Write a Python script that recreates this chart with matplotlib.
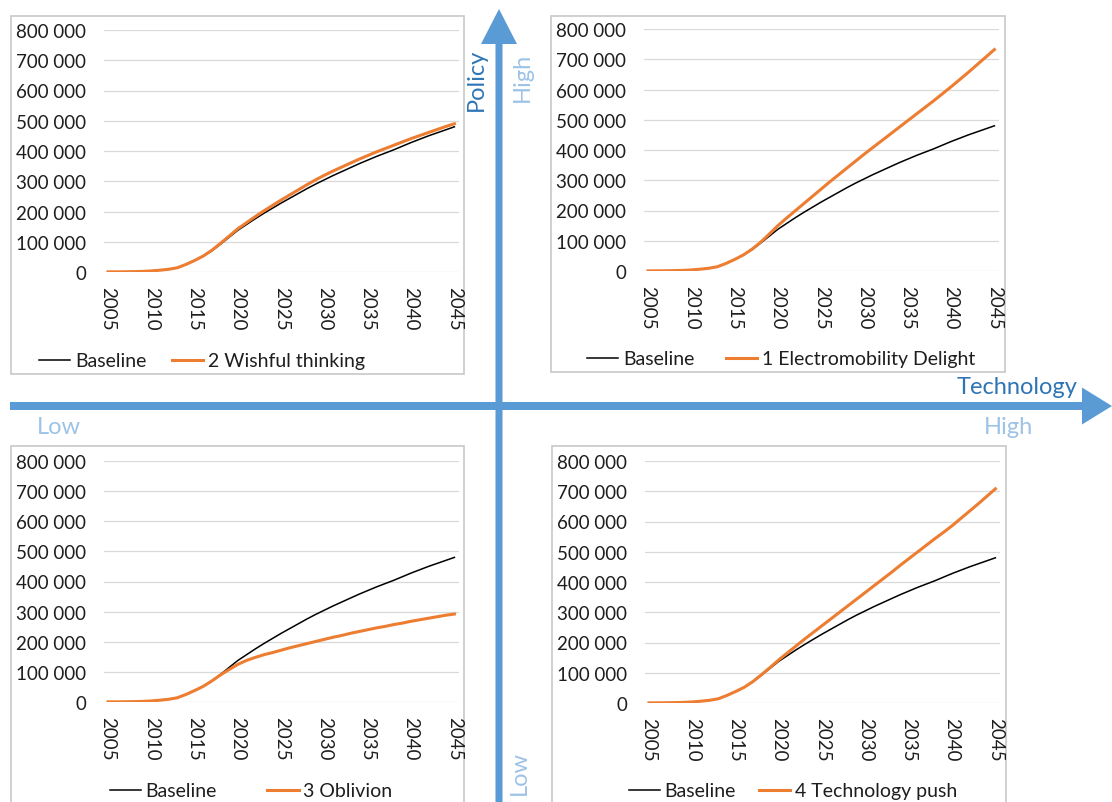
import matplotlib
matplotlib.use("Agg")
import matplotlib.pyplot as plt
from matplotlib.patches import FancyArrow, Rectangle
from matplotlib.ticker import FuncFormatter, MultipleLocator

plt.rcParams['font.family'] = ['Lato', 'DejaVu Sans']

years = list(range(2005, 2046))

baseline = [500, 600, 800, 1200, 2000, 3500, 6000, 9000, 14000, 25000,
            38000, 52000, 70000, 92000, 115000, 138000, 157000, 176000, 194000, 211000,
            228000, 244000, 260000, 276000, 291000, 305000, 319000, 332000, 345000, 358000,
            370000, 382000, 393000, 404000, 416000, 428000, 439000, 450000, 460000, 470000,
            480000]

wishful = [500, 600, 800, 1200, 2000, 3500, 6000, 9000, 14000, 25000,
           38000, 53000, 72000, 95000, 119000, 143000, 163000, 183000, 202000, 220000,
           238000, 255000, 272000, 289000, 305000, 320000, 334000, 347000, 360000, 373000,
           385000, 397000, 408000, 419000, 430000, 441000, 451000, 461000, 471000, 481000,
           490000]

electro = [500, 600, 800, 1200, 2000, 3500, 6000, 9000, 14000, 25000,
           38000, 53000, 72000, 95000, 122000, 150000, 175000, 199000, 223000, 247000,
           271000, 295000, 318000, 341000, 364000, 387000, 409000, 431000, 453000, 475000,
           497000, 519000, 541000, 563000, 586000, 609000, 633000, 657000, 682000, 707000,
           732000]

oblivion = [500, 600, 800, 1200, 2000, 3500, 6000, 9000, 14000, 25000,
            38000, 52000, 70000, 90000, 108000, 125000, 138000, 148000, 157000, 164000,
            172000, 180000, 187000, 194000, 201000, 208000, 215000, 221000, 228000, 234000,
            240000, 246000, 251000, 257000, 262000, 268000, 273000, 278000, 283000, 288000,
            292000]

techpush = [500, 600, 800, 1200, 2000, 3500, 6000, 9000, 14000, 25000,
            38000, 52000, 71000, 94000, 118000, 143000, 166000, 189000, 212000, 234000,
            256000, 278000, 300000, 322000, 344000, 366000, 388000, 410000, 432000, 455000,
            477000, 499000, 521000, 543000, 564000, 586000, 610000, 634000, 658000, 683000,
            708000]

panels = [
    # scenario label, series, axes rect (px: left, top-of-800k, bottom-of-0), box (px), legend centre (px), column spacing
    ("2 Wishful thinking", wishful, (104, 31, 273), (11, 17, 464, 375), (202, 362), 1.3),
    ("1 Electromobility Delight", electro, (644, 30, 272), (551, 17, 1005, 373), (781, 360), 1.6),
    ("3 Oblivion", oblivion, (104, 462, 703), (11, 447, 464, 815), (251, 792), 2.6),
    ("4 Technology push", techpush, (645, 462, 704), (552, 447, 1006, 815), (793, 792), 1.2),
]

W, H = 1112, 803
ARROW = '#5B9BD5'
DARK_BLUE = '#2E75B6'
LIGHT_BLUE = '#9DC3E6'
TEXT = '#1e1e1e'

fig = plt.figure(figsize=(W / 100, H / 100), dpi=100)

# background layer in pixel coordinates for frames, arrows and quadrant labels
bg = fig.add_axes([0, 0, 1, 1])
bg.set_xlim(0, W)
bg.set_ylim(H, 0)
bg.axis('off')

for _, _, _, box, _, _ in panels:
    x0, y0, x1, y1 = box
    bg.add_patch(Rectangle((x0, y0), x1 - x0, y1 - y0, facecolor='white',
                           edgecolor='#C8C8C8', lw=1.2))

bg.add_patch(FancyArrow(499, H + 5, 0, 10 - (H + 5), width=7, head_width=36,
                        head_length=35, length_includes_head=True, color=ARROW, lw=0))
bg.add_patch(FancyArrow(10, 407, W - 10, 0, width=8, head_width=37,
                        head_length=30, length_includes_head=True, color=ARROW, lw=0))

bg.text(476, 80, "Policy", rotation=90, ha='center', va='center', fontsize=17, color=DARK_BLUE)
bg.text(522, 77, "High", rotation=90, ha='center', va='center', fontsize=17, color=LIGHT_BLUE)
bg.text(519, 773, "Low", rotation=90, ha='center', va='center', fontsize=17, color=LIGHT_BLUE)
bg.text(1017, 388, "Technology", ha='center', va='center', fontsize=17, color=DARK_BLUE)
bg.text(1008, 428, "High", ha='center', va='center', fontsize=17, color=LIGHT_BLUE)
bg.text(59, 428, "Low", ha='center', va='center', fontsize=17, color=LIGHT_BLUE)

fmt = FuncFormatter(lambda v, p: f"{int(v):,}".replace(",", " "))

for name, series, rect, box, leg, colsp in panels:
    left, top, bottom = rect
    px_per_year = 8.66
    x_min = 2005 - 4 / px_per_year
    x_max = 2045 + 5 / px_per_year
    width_px = (x_max - x_min) * px_per_year
    ax = fig.add_axes([left / W, 1 - bottom / H, width_px / W, (bottom - top) / H])
    ax.plot(years, baseline, color='black', lw=1.1, label='Baseline')
    ax.plot(years, series, color='#ED7D31', lw=2.2, label=name)
    ax.set_xlim(x_min, x_max)
    ax.set_ylim(0, 800000)
    ax.yaxis.set_major_locator(MultipleLocator(100000))
    ax.yaxis.set_major_formatter(fmt)
    ax.set_xticks(list(range(2005, 2046, 5)))
    ax.tick_params(axis='both', length=0, labelsize=13.5, labelcolor=TEXT)
    ax.tick_params(axis='y', pad=13)
    ax.tick_params(axis='x', pad=10, labelrotation=-90)
    ax.grid(axis='y', color='#D9D9D9', lw=0.9)
    ax.set_axisbelow(True)
    for s in ax.spines.values():
        s.set_visible(False)
    ax.set_facecolor('none')
    ax.legend(loc='center', bbox_to_anchor=(leg[0] / W, 1 - leg[1] / H),
              bbox_transform=fig.transFigure, ncol=2, frameon=False, fontsize=14,
              handlelength=1.6, handletextpad=0.25, columnspacing=colsp,
              labelcolor=TEXT)

fig.savefig("out.png", dpi=100)
